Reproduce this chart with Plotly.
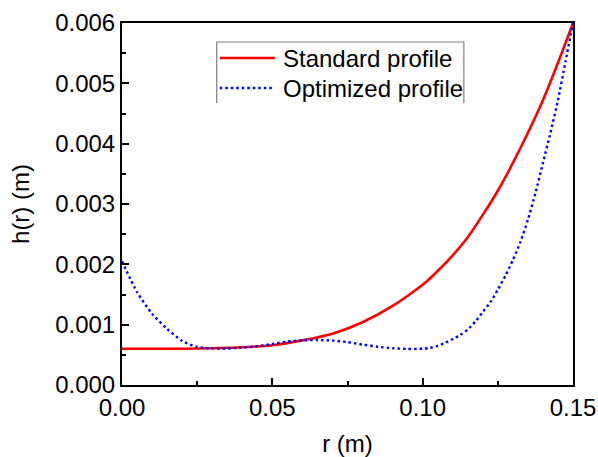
import plotly.graph_objects as go

# Standard profile
r_std = [0.0, 0.01, 0.02, 0.03, 0.04, 0.05, 0.06, 0.07, 0.08, 0.09, 0.10, 0.105,
         0.11, 0.115, 0.12, 0.125, 0.13, 0.135, 0.14, 0.145, 0.15]
h_std = [0.0006, 0.0006, 0.0006, 0.00061, 0.000625, 0.00066, 0.00074, 0.00085,
         0.00104, 0.00131, 0.00166, 0.00189, 0.00215, 0.00245, 0.00282, 0.00322,
         0.00368, 0.00418, 0.00472, 0.00534, 0.006]

# Optimized profile
r_opt = [0.0, 0.005, 0.01, 0.015, 0.02, 0.025, 0.03, 0.035, 0.04, 0.045, 0.05, 0.055,
         0.06, 0.065, 0.07, 0.075, 0.08, 0.085, 0.09, 0.095, 0.10, 0.1025, 0.105,
         0.1075, 0.11, 0.1125, 0.115, 0.1175, 0.12, 0.1225, 0.125, 0.1275, 0.13,
         0.1325, 0.135, 0.1375, 0.14, 0.1425, 0.145, 0.1475, 0.15]
h_opt = [0.00205, 0.00154, 0.00118, 0.00093, 0.00073, 0.00063, 0.000605, 0.000605,
         0.00062, 0.000645, 0.00068, 0.00072, 0.00074, 0.000745, 0.000737, 0.00071,
         0.00067, 0.000635, 0.00061, 0.000598, 0.000602, 0.000615, 0.00065, 0.0007,
         0.00076, 0.00083, 0.00092, 0.00105, 0.00121, 0.00137, 0.00158, 0.00181,
         0.00207, 0.00237, 0.00274, 0.00318, 0.00368, 0.00418, 0.00472, 0.00536, 0.006]

series_names = ["Standard profile", "Optimized profile"]

x_ticks = [0.0, 0.05, 0.10, 0.15]
x_tick_labels = ["0.00", "0.05", "0.10", "0.15"]
y_ticks = [0.000, 0.001, 0.002, 0.003, 0.004, 0.005, 0.006]
y_tick_labels = ["0.000", "0.001", "0.002", "0.003", "0.004", "0.005", "0.006"]

FONT = "Liberation Sans, Arial, sans-serif"
FS = 24
RED = "#ff0000"
BLUE = "#0000ff"
BLUE_DASH = "2.5px,3px"

fig = go.Figure()
fig.add_trace(go.Scatter(x=r_std, y=h_std, mode="lines", name=series_names[0],
                         line=dict(color=RED, width=2.6, shape="spline", smoothing=0.6)))
fig.add_trace(go.Scatter(x=r_opt, y=h_opt, mode="lines", name=series_names[1],
                         line=dict(color=BLUE, width=2.4, dash=BLUE_DASH,
                                   shape="spline", smoothing=0.6)))

axis_common = dict(showline=True, linecolor="black", linewidth=2, mirror=True,
                   ticks="inside", ticklen=7, tickwidth=1.5, tickcolor="black",
                   showgrid=False, zeroline=False, automargin=False,
                   tickfont=dict(family=FONT, size=FS, color="black"))

fig.update_xaxes(range=[0, 0.15], tickvals=x_ticks, ticktext=x_tick_labels,
                 minor=dict(ticks="inside", ticklen=4, tickwidth=1.5, tickcolor="black", dtick=0.025),
                 title=dict(text="r (m)", font=dict(family=FONT, size=FS, color="black"), standoff=16),
                 **axis_common)
fig.update_yaxes(range=[0, 0.006], tickvals=y_ticks, ticktext=y_tick_labels,
                 minor=dict(ticks="inside", ticklen=4, tickwidth=1.5, tickcolor="black", dtick=0.0005),
                 title=dict(text="h(r) (m)", font=dict(family=FONT, size=FS, color="black"), standoff=19),
                 **axis_common)

fig.update_layout(
    width=598, height=457,
    margin=dict(l=122, r=25, t=23, b=72),
    paper_bgcolor="white", plot_bgcolor="white",
    showlegend=False,
)

# Hand-drawn legend (frame: left, top, right edges visible in reference)
fig.add_shape(type="path", xref="paper", yref="paper",
              path="M 0.21 0.779 L 0.21 0.9475 L 0.758 0.9475 L 0.758 0.779",
              line=dict(color="#808080", width=1.2))
legend_rows = [0.9033, 0.8204]
legend_styles = [dict(color=RED, width=2.6), dict(color=BLUE, width=2.4, dash=BLUE_DASH)]
for name, yy, st in zip(series_names, legend_rows, legend_styles):
    fig.add_shape(type="line", xref="paper", yref="paper",
                  x0=0.2168, x1=0.3389, y0=yy, y1=yy, line=st)
    fig.add_annotation(xref="paper", yref="paper", x=0.3522, y=yy,
                       xanchor="left", yanchor="middle", showarrow=False,
                       text=name, font=dict(family=FONT, size=FS, color="black"))

fig.write_html("out.html")
